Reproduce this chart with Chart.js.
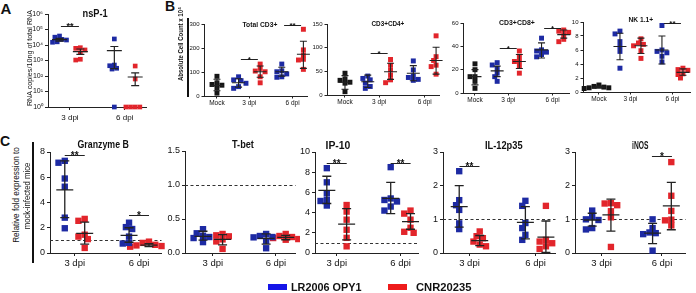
<!DOCTYPE html>
<html><head><meta charset="utf-8">
<script src="https://cdn.jsdelivr.net/npm/chart.js@4/dist/chart.umd.min.js"></script>
<style>
html,body{margin:0;padding:0;background:#fff}
body{width:696px;height:293px;position:relative;overflow:hidden;font-family:"Liberation Sans",Arial,sans-serif;color:#111}
.box{position:absolute}
.txt{position:absolute;left:0;top:0;white-space:nowrap;line-height:1;transform-origin:50% 50%;color:#111}
.bar{position:absolute;background:#111}
</style></head><body>
<script>
// ================= DATA =================
const dpiLabels = ['3 dpi', '6 dpi'];
const bLabels = ['Mock', '3 dpi', '6 dpi'];
const seriesNames = ['LR2006 OPY1', 'CNR20235'];
const logTicks = [1, 10, 100, 1000, 10000, 100000, 1000000];

// A: nsP-1, RNA copies/10ng of total RNA
const nsp1_LR_3dpi  = [38000, 32000, 23000, 21000, 16000, 15000];
const nsp1_CNR_3dpi = [6700, 6100, 4800, 3200, 1200, 1070];
const nsp1_LR_6dpi  = [24500, 510, 460, 315, 280, 1];
const nsp1_CNR_6dpi = [440, 64, 1, 1, 1, 1];
const nsp1_mean = [22000, 3700, 4300, 86];
const nsp1_low  = [18000, 2500, 300, 24];
const nsp1_high = [27000, 5500, 8000, 160];
const nsp1_sig  = [['3 dpi', 170000, '**']];

// B: Total CD3+
const cd3_Mock     = [82, 55, 48, 45, 35, 12];
const cd3_LR_3dpi  = [80, 67, 64, 53, 39, 32];
const cd3_CNR_3dpi = [133, 115, 104, 101, 80, 55];
const cd3_LR_6dpi  = [133, 105, 101, 92, 80, 78];
const cd3_CNR_6dpi = [278, 192, 171, 153, 150, 111];
const cd3_mean = [44, 55, 101, 101, 174];
const cd3_low  = [22, 37, 78, 83, 115];
const cd3_high = [70, 72, 125, 120, 228];
const cd3_sig  = [['3 dpi', 153, '*'], ['6 dpi', 296, '**']];

// B: CD3+CD4+
const cd4_Mock     = [46, 34, 31, 27, 25, 7];
const cd4_LR_3dpi  = [40, 35, 32, 25, 18, 14];
const cd4_CNR_3dpi = [75, 63, 53, 42, 32, 26];
const cd4_LR_6dpi  = [72, 53, 40, 37, 33, 31];
const cd4_CNR_6dpi = [125, 81, 73, 63, 60, 44];
const cd4_mean = [27, 28, 49, 46, 73];
const cd4_low  = [12, 16, 33, 30, 44];
const cd4_high = [41, 42, 67, 62, 101];
const cd4_sig  = [['3 dpi', 88, '*']];

// B: CD3+CD8+
const cd8_Mock     = [25, 20, 14, 14, 10, 4];
const cd8_LR_3dpi  = [26, 24, 21, 17, 14, 10];
const cd8_CNR_3dpi = [36, 31, 27, 27, 23, 17];
const cd8_LR_6dpi  = [47, 37, 36, 35, 33, 31];
const cd8_CNR_6dpi = [54, 53, 52, 50, 46, 44];
const cd8_mean = [14, 19, 27, 37, 50];
const cd8_low  = [7, 14, 21, 30, 47];
const cd8_high = [20, 23, 33, 43, 54];
const cd8_sig  = [['3 dpi', 38.6, '*'], ['6 dpi', 56, '*']];

// B: NK 1.1+
const nk_Mock     = [1.0, 0.8, 0.7, 0.6, 0.6, 0.5];
const nk_LR_3dpi  = [8.7, 8.3, 7.2, 6.5, 5.8, 3.4];
const nk_CNR_3dpi = [7.6, 7.0, 6.8, 6.6, 5.9, 4.8];
const nk_LR_6dpi  = [9.5, 6.0, 5.8, 5.6, 5.1, 4.3];
const nk_CNR_6dpi = [3.4, 3.2, 3.1, 2.6, 2.5, 2.0];
const nk_mean = [0.7, 6.5, 6.6, 6.0, 2.8];
const nk_low  = [0.55, 4.6, 5.5, 4.0, 2.4];
const nk_high = [0.85, 8.4, 7.7, 8.0, 3.3];
const nk_sig  = [['6 dpi', 9.8, '**']];

// C: Granzyme B
const gzb_LR_3dpi  = [7.3, 7.15, 5.9, 5.25, 2.8, 1.96];
const gzb_CNR_3dpi = [2.7, 2.55, 1.45, 1.3, 1.1, 0.4];
const gzb_LR_6dpi  = [2.4, 2.05, 1.9, 1.3, 0.8, 0.75];
const gzb_CNR_6dpi = [0.9, 0.8, 0.65, 0.6, 0.55, 0.5];
const gzb_mean = [5.0, 1.55, 1.4, 0.62];
const gzb_low  = [2.8, 0.7, 0.85, 0.5];
const gzb_high = [7.3, 2.45, 2.0, 0.75];
const gzb_sig  = [['3 dpi', 7.74, '**'], ['6 dpi', 3.0, '*']];

// C: T-bet
const tbet_LR_3dpi  = [0.35, 0.29, 0.25, 0.235, 0.22, 0.16];
const tbet_CNR_3dpi = [0.28, 0.26, 0.245, 0.2, 0.17, 0.06];
const tbet_LR_6dpi  = [0.28, 0.25, 0.235, 0.23, 0.18, 0.07];
const tbet_CNR_6dpi = [0.28, 0.25, 0.235, 0.22, 0.205, 0.195];
const tbet_mean = [0.245, 0.2, 0.215, 0.23];
const tbet_low  = [0.19, 0.12, 0.13, 0.195];
const tbet_high = [0.32, 0.27, 0.28, 0.26];
const tbet_sig  = [];

// C: IP-10
const ip10_LR_3dpi  = [8.4, 7.0, 5.9, 5.25, 5.15, 4.7];
const ip10_CNR_3dpi = [4.75, 4.1, 3.3, 2.3, 1.5, 0.66];
const ip10_LR_6dpi  = [8.5, 5.4, 5.25, 5.1, 4.6, 4.2];
const ip10_CNR_6dpi = [4.2, 3.9, 3.3, 2.5, 2.1, 2.0];
const ip10_mean = [6.2, 2.85, 5.4, 3.1];
const ip10_low  = [4.9, 1.3, 3.9, 2.35];
const ip10_high = [7.6, 4.4, 7.0, 3.9];
const ip10_sig  = [['3 dpi', 8.9, '**'], ['6 dpi', 8.9, '**']];

// C: IL-12p35
const il12_LR_3dpi  = [2.43, 1.57, 1.42, 1.28, 0.88, 0.71];
const il12_CNR_3dpi = [0.64, 0.5, 0.44, 0.34, 0.25, 0.2];
const il12_LR_6dpi  = [1.55, 1.4, 0.89, 0.74, 0.54, 0.39];
const il12_CNR_6dpi = [1.4, 0.39, 0.34, 0.29, 0.2, 0.12];
const il12_mean = [1.38, 0.37, 0.91, 0.47];
const il12_low  = [0.77, 0.22, 0.42, 0.02];
const il12_high = [2.0, 0.52, 1.38, 0.95];
const il12_sig  = [['3 dpi', 2.58, '**']];

// C: iNOS
const inos_LR_3dpi  = [1.26, 1.08, 1.0, 0.98, 0.74, 0.7];
const inos_CNR_3dpi = [1.48, 1.47, 1.42, 1.24, 1.06, 0.18];
const inos_LR_6dpi  = [1.0, 0.74, 0.61, 0.59, 0.56, 0.07];
const inos_CNR_6dpi = [2.7, 1.7, 1.25, 0.99, 0.97, 0.82];
const inos_mean = [0.98, 1.13, 0.59, 1.4];
const inos_low  = [0.8, 0.65, 0.28, 0.69];
const inos_high = [1.18, 1.6, 0.88, 2.1];
const inos_sig  = [['6 dpi', 2.87, '*']];

// ================= STYLE =================
const BLUE = '#1d2aa3', RED = '#e2252b', BLACK = '#151515';
const LEG_BLUE = '#1515e8', LEG_RED = '#ee1b1b';
const FONT = '"Liberation Sans", Arial, Helvetica, sans-serif';
Chart.defaults.font.family = FONT;
Chart.defaults.color = '#111';
const SUP = ['\u2070','\u00B9','\u00B2','\u00B3','\u2074','\u2075','\u2076'];

// ================= HELPERS =================
function swarm(vals, center, ppu, toPx, side) {
  const idx = vals.map((v, i) => i).sort((a, b) => vals[b] - vals[a]);
  const placed = [], out = new Array(vals.length);
  idx.forEach(i => {
    const py = toPx(vals[i]);
    for (let k = 0; k < 40; k++) {
      const off = (k === 0 ? 0 : (k % 2 ? -1 : 1) * Math.ceil(k / 2)) * side * 0.5;
      if (placed.every(p => Math.hypot(p.x - off, p.y - py) >= side * 0.85)) {
        placed.push({x: off, y: py}); out[i] = center + off / ppu; break;
      }
    }
  });
  return out;
}

const decor = {
  id: 'decor',
  beforeDatasetsDraw(chart, a, o) {
    if (o.ref == null) return;
    const {ctx, chartArea: ca, scales: {y}} = chart;
    const py = Math.round(y.getPixelForValue(o.ref)) + 0.5;
    ctx.save(); ctx.strokeStyle = '#333'; ctx.lineWidth = 1; ctx.setLineDash([3, 2.5]);
    ctx.beginPath(); ctx.moveTo(ca.left, py); ctx.lineTo(ca.right, py); ctx.stroke(); ctx.restore();
  },
  afterDatasetsDraw(chart, a, o) {
    const {ctx, scales: {x, y}} = chart;
    ctx.save(); ctx.strokeStyle = '#222'; ctx.lineWidth = o.lw;
    o.bars.forEach(b => {
      const cx = x.getPixelForValue(b.x);
      const ym = y.getPixelForValue(b.mean), yl = y.getPixelForValue(b.lo), yh = y.getPixelForValue(b.hi);
      ctx.beginPath();
      ctx.moveTo(cx - o.mh, ym); ctx.lineTo(cx + o.mh, ym);
      ctx.moveTo(cx, yl); ctx.lineTo(cx, yh);
      ctx.moveTo(cx - o.ch, yl); ctx.lineTo(cx + o.ch, yl);
      ctx.moveTo(cx - o.ch, yh); ctx.lineTo(cx + o.ch, yh);
      ctx.stroke();
    });
    ctx.fillStyle = '#111';
    ctx.font = 'bold ' + o.sf + 'px ' + FONT; ctx.textAlign = 'center'; ctx.textBaseline = 'alphabetic';
    o.sig.forEach(s => {
      const cx = x.getPixelForValue(s.x), py = Math.round(y.getPixelForValue(s.y)) + 0.5;
      ctx.lineWidth = 1;
      ctx.beginPath(); ctx.moveTo(cx - o.sh, py); ctx.lineTo(cx + o.sh, py); ctx.stroke();
      ctx.fillText(s.text, cx, py + o.sf * 0.32);
    });
    ctx.restore();
  }
};

function panel(p) {
  const W = p.R - p.L, H = p.B - p.T;
  const div = document.createElement('div'); div.className = 'box';
  Object.assign(div.style, {left: (p.L - p.yW) + 'px', top: (p.T - p.padT) + 'px',
    width: (W + p.yW + p.padR) + 'px', height: (H + p.padT + p.xH) + 'px'});
  const cv = document.createElement('canvas'); div.appendChild(cv); document.body.appendChild(div);
  const toPx = p.log
    ? v => (Math.log10(Math.max(v, p.yMin)) - Math.log10(p.yMin)) / (Math.log10(p.yMax) - Math.log10(p.yMin)) * H
    : v => (v - p.yMin) / (p.yMax - p.yMin) * H;
  const ppu = W / (p.xMax - p.xMin);
  const side = p.r * Math.SQRT2;
  const datasets = p.groups.map(g => {
    const xs = swarm(g.vals, g.x, ppu, toPx, side);
    return {data: g.vals.map((v, i) => ({x: xs[i], y: v})), backgroundColor: g.color, borderColor: g.color,
      borderWidth: 0, pointStyle: 'rect', pointRadius: p.r, pointHoverRadius: p.r, clip: false, showLine: false};
  });
  const bars = p.groups.map((g, i) => ({x: g.x, mean: p.mean[i], lo: p.low[i], hi: p.high[i]}));
  const sig = p.sig.map(s => ({x: p.xTicks[p.xLabels.indexOf(s[0])], y: s[1], text: s[2]}));
  new Chart(cv, {
    type: 'scatter',
    data: {datasets},
    options: {
      responsive: true, maintainAspectRatio: false, animation: false, events: [],
      devicePixelRatio: 1,
      layout: {padding: {top: p.padT, right: p.padR, left: 0, bottom: 0}},
      plugins: {legend: {display: false}, tooltip: {enabled: false},
        decor: {bars, sig, ref: p.ref, mh: p.mh, ch: p.ch, sh: p.sh, sf: p.sf, lw: p.lw}},
      scales: {
        x: {type: 'linear', min: p.xMin, max: p.xMax,
          afterBuildTicks: s => { s.ticks = p.xTicks.map(v => ({value: v})); },
          afterFit: s => { s.height = p.xH; },
          ticks: {callback: (v, i) => p.xLabels[i], font: {size: p.xFont}, color: '#111', padding: p.xPad,
            maxRotation: 0, minRotation: 0, autoSkip: false},
          grid: {display: true, drawOnChartArea: false, drawTicks: true, tickLength: p.tl, color: '#222', lineWidth: 1},
          border: {display: true, color: '#222', width: 1}},
        y: {type: p.log ? 'logarithmic' : 'linear', min: p.yMin, max: p.yMax,
          afterBuildTicks: s => { s.ticks = p.yTicks.map(v => ({value: v})); },
          afterFit: s => { s.width = p.yW; },
          ticks: {callback: v => p.yFmt(v), font: {size: p.yFont}, color: '#111', padding: 2, autoSkip: false},
          grid: {display: true, drawOnChartArea: false, drawTicks: true, tickLength: p.tl, color: '#222', lineWidth: 1},
          border: {display: true, color: '#222', width: 1}}
      }
    },
    plugins: [decor]
  });
}

function txt(s, cx, cy, font, opt) {
  opt = opt || {};
  const d = document.createElement('div'); d.className = 'txt'; d.style.font = font; d.textContent = s;
  if (opt.color) d.style.color = opt.color;
  document.body.appendChild(d);
  const w = d.offsetWidth, h = d.offsetHeight;
  const sx = opt.len ? opt.len / w : 1;
  d.style.transform = `translate(${cx - w / 2}px, ${cy - h / 2}px) rotate(${opt.rot || 0}deg) scale(${sx},1)`;
}
function rect(x, y, w, h, c) {
  const d = document.createElement('div'); d.className = 'bar';
  Object.assign(d.style, {left: x + 'px', top: y + 'px', width: w + 'px', height: h + 'px', background: c});
  document.body.appendChild(d);
}

// ================= PANELS =================
const fmtInt = v => String(v);
const fmt1 = v => v.toFixed(1);

// A
(function () {
  const o = 0.19;
  panel({L: 48, T: 14, R: 147, B: 107, yW: 17, padT: 8, padR: 3, xH: 18,
    log: true, yMin: 1, yMax: 1e6, yTicks: logTicks, yFmt: v => '10' + SUP[Math.round(Math.log10(v))],
    yFont: 7, xFont: 8, xPad: 3, tl: 3, xMin: 0.6, xMax: 2.4, xTicks: [1, 2], xLabels: dpiLabels,
    r: 3.3, mh: 7.5, ch: 4, sh: 9, sf: 9, lw: 1.2,
    groups: [{vals: nsp1_LR_3dpi, x: 1 - o, color: BLUE}, {vals: nsp1_CNR_3dpi, x: 1 + o, color: RED},
             {vals: nsp1_LR_6dpi, x: 2 - o, color: BLUE}, {vals: nsp1_CNR_6dpi, x: 2 + o, color: RED}],
    mean: nsp1_mean, low: nsp1_low, high: nsp1_high, sig: nsp1_sig});
})();

// B
function bPanel(L, T, R, B, xMin, xMax, yMax, yTicks, mock, lr3, cnr3, lr6, cnr6, mean, low, high, sig) {
  panel({L, T, R, B, yW: 15, padT: 8, padR: 3, xH: 13,
    log: false, yMin: 0, yMax, yTicks, yFmt: fmtInt,
    yFont: 6, xFont: 6.5, xPad: 1, tl: 2.5, xMin, xMax, xTicks: [0, 1.5, 3.5], xLabels: bLabels,
    r: 3.5, mh: 6.5, ch: 3.5, sh: 8.5, sf: 8, lw: 1.1,
    groups: [{vals: mock, x: 0, color: BLACK}, {vals: lr3, x: 1, color: BLUE}, {vals: cnr3, x: 2, color: RED},
             {vals: lr6, x: 3, color: BLUE}, {vals: cnr6, x: 4, color: RED}],
    mean, low, high, sig});
}
bPanel(204, 24, 308, 96, -0.6, 4.19, 300, [0, 100, 200, 300], cd3_Mock, cd3_LR_3dpi, cd3_CNR_3dpi, cd3_LR_6dpi, cd3_CNR_6dpi, cd3_mean, cd3_low, cd3_high, cd3_sig);
bPanel(327, 24, 440, 95, -0.79, 4.15, 150, [0, 50, 100, 150], cd4_Mock, cd4_LR_3dpi, cd4_CNR_3dpi, cd4_LR_6dpi, cd4_CNR_6dpi, cd4_mean, cd4_low, cd4_high, cd4_sig);
bPanel(463, 23, 570, 93, -0.54, 4.26, 60, [0, 20, 40, 60], cd8_Mock, cd8_LR_3dpi, cd8_CNR_3dpi, cd8_LR_6dpi, cd8_CNR_6dpi, cd8_mean, cd8_low, cd8_high, cd8_sig);
bPanel(583, 22, 691, 92, -0.76, 4.36, 10, [0, 2, 4, 6, 8, 10], nk_Mock, nk_LR_3dpi, nk_CNR_3dpi, nk_LR_6dpi, nk_CNR_6dpi, nk_mean, nk_low, nk_high, nk_sig);

// C
function cPanel(L, T, R, B, xMin, xMax, yMax, yTicks, yFmt, lr3, cnr3, lr6, cnr6, mean, low, high, sig) {
  const o = 0.155;
  panel({L, T, R, B, yW: 20, padT: 8, padR: 3, xH: 20,
    log: false, yMin: 0, yMax, yTicks, yFmt,
    yFont: 9, xFont: 9.5, xPad: 2, tl: 3, xMin, xMax, xTicks: [1, 2], xLabels: dpiLabels,
    r: 4.5, mh: 8.5, ch: 4.5, sh: 10, sf: 10, lw: 1.3, ref: 1,
    groups: [{vals: lr3, x: 1 - o, color: BLUE}, {vals: cnr3, x: 1 + o, color: RED},
             {vals: lr6, x: 2 - o, color: BLUE}, {vals: cnr6, x: 2 + o, color: RED}],
    mean, low, high, sig});
}
cPanel(50, 152, 163, 253, 0.615, 2.35, 8, [0, 2, 4, 6, 8], fmtInt, gzb_LR_3dpi, gzb_CNR_3dpi, gzb_LR_6dpi, gzb_CNR_6dpi, gzb_mean, gzb_low, gzb_high, gzb_sig);
cPanel(185, 151, 297, 253, 0.56, 2.31, 1.5, [0, 0.5, 1, 1.5], fmt1, tbet_LR_3dpi, tbet_CNR_3dpi, tbet_LR_6dpi, tbet_CNR_6dpi, tbet_mean, tbet_low, tbet_high, tbet_sig);
cPanel(315, 152, 420, 253, 0.66, 2.28, 10, [0, 2, 4, 6, 8, 10], fmtInt, ip10_LR_3dpi, ip10_CNR_3dpi, ip10_LR_6dpi, ip10_CNR_6dpi, ip10_mean, ip10_low, ip10_high, ip10_sig);
cPanel(443, 152, 557, 253, 0.6, 2.3, 3, [0, 1, 2, 3], fmtInt, il12_LR_3dpi, il12_CNR_3dpi, il12_LR_6dpi, il12_CNR_6dpi, il12_mean, il12_low, il12_high, il12_sig);
cPanel(575, 152, 687, 253, 0.56, 2.39, 3, [0, 1, 2, 3], fmtInt, inos_LR_3dpi, inos_CNR_3dpi, inos_LR_6dpi, inos_CNR_6dpi, inos_mean, inos_low, inos_high, inos_sig);

// ================= TEXT =================
txt('A', 6, 8, 'bold 15px ' + FONT);
txt('B', 170, 6, 'bold 14px ' + FONT);
txt('C', 5, 141, 'bold 14px ' + FONT);

txt('nsP-1', 95, 13, 'bold 10px ' + FONT, {len: 25});
txt('RNA copies/10ng of total RNA', 29, 58, '8px ' + FONT, {rot: -90, len: 96});

txt('Absolute Cell Count x 10\u2074', 180, 44, 'bold 7.5px ' + FONT, {rot: -90, len: 74});
rect(187, 18, 2, 79, '#111');
txt('Total CD3+', 260, 24, 'bold 7.5px ' + FONT, {len: 35});
txt('CD3+CD4+', 388, 23, 'bold 7.5px ' + FONT, {len: 33});
txt('CD3+CD8+', 517, 22, 'bold 7.5px ' + FONT, {len: 36});
txt('NK 1.1+', 641, 19, 'bold 7.5px ' + FONT, {len: 25});

txt('Relative fold expression to', 16, 195, '9px ' + FONT, {rot: -90, len: 96});
txt('mock-infected mice', 27, 196, '9px ' + FONT, {rot: -90, len: 67});
rect(32, 142, 2, 121, '#111');
txt('Granzyme B', 103, 144, 'bold 10px ' + FONT, {len: 51});
txt('T-bet', 243, 144, 'bold 10px ' + FONT, {len: 22});
txt('IP-10', 338, 145, 'bold 10px ' + FONT, {len: 25});
txt('IL-12p35', 504, 145, 'bold 10px ' + FONT, {len: 38});
txt('iNOS', 640, 145, 'bold 10px ' + FONT, {len: 16});

// legend
rect(268, 284, 19, 6, LEG_BLUE);
txt(seriesNames[0], 326.5, 287, 'bold 11px ' + FONT, {len: 71});
rect(388, 284, 19, 6, LEG_RED);
txt(seriesNames[1], 443.5, 287, 'bold 11px ' + FONT, {len: 55});
</script>
</body></html>
